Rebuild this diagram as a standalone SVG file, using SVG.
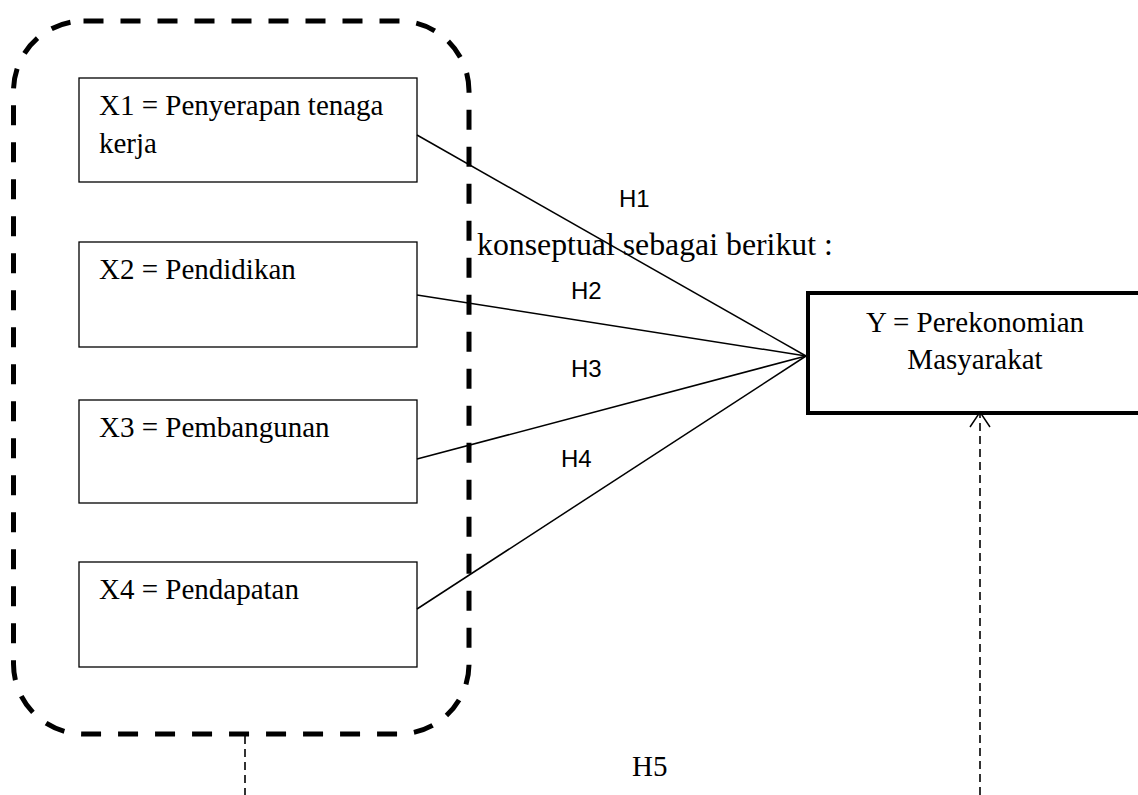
<svg xmlns="http://www.w3.org/2000/svg" width="1138" height="795" viewBox="0 0 1138 795">
<style>
.box{fill:#fff;stroke:#000;stroke-width:1.3}
.t{font-family:"Liberation Serif","Times New Roman",serif;font-size:29px;fill:#000}
.h{font-family:"Liberation Sans",Arial,sans-serif;font-size:24px;fill:#000}
.ln{stroke:#000;stroke-width:1.5;fill:none}
.dl{stroke:#000;stroke-width:1.6;fill:none;stroke-dasharray:8 5}
</style>
<rect width="1138" height="795" fill="#fff"/>
<g id="group">
<rect x="13.5" y="21" width="455.5" height="713" rx="70" ry="70" fill="none" stroke="#000" stroke-width="5" stroke-dasharray="20 17"/>
</g>
<g id="x1"><rect class="box" x="79" y="78" width="338" height="104"/><text class="t" x="99" y="115">X1 = Penyerapan tenaga</text><text class="t" x="99" y="153">kerja</text></g>
<g id="x2"><rect class="box" x="79" y="242" width="338" height="105"/><text class="t" x="99" y="279">X2 = Pendidikan</text></g>
<g id="x3"><rect class="box" x="79" y="400" width="338" height="103"/><text class="t" x="99" y="437">X3 = Pembangunan</text></g>
<g id="x4"><rect class="box" x="79" y="562" width="338" height="105"/><text class="t" x="99" y="599">X4 = Pendapatan</text></g>
<g id="y"><rect x="808" y="293" width="340" height="120" fill="#fff" stroke="#000" stroke-width="4"/><text class="t" x="975" y="332" text-anchor="middle">Y = Perekonomian</text><text class="t" x="975" y="369" text-anchor="middle">Masyarakat</text></g>
<text x="477" y="255" font-family="'Liberation Serif','Times New Roman',serif" font-size="31.8" fill="#000">konseptual sebagai berikut :</text>
<g id="connectors">
<line class="ln" x1="417" y1="135" x2="806" y2="356"/>
<line class="ln" x1="417" y1="295" x2="806" y2="356"/>
<line class="ln" x1="417" y1="459" x2="806" y2="356"/>
<line class="ln" x1="417" y1="609" x2="806" y2="356"/>
<line class="dl" x1="980" y1="795" x2="980" y2="414"/>
<polyline class="ln" points="970,427 980,412 990,427"/>
<line class="dl" x1="245" y1="736" x2="245" y2="795"/>
</g>
<g id="labels">
<text class="h" x="619" y="207">H1</text>
<text class="h" x="571" y="299">H2</text>
<text class="h" x="571" y="377">H3</text>
<text class="h" x="561" y="467">H4</text>
<text class="t" x="632" y="776">H5</text>
</g>
</svg>
